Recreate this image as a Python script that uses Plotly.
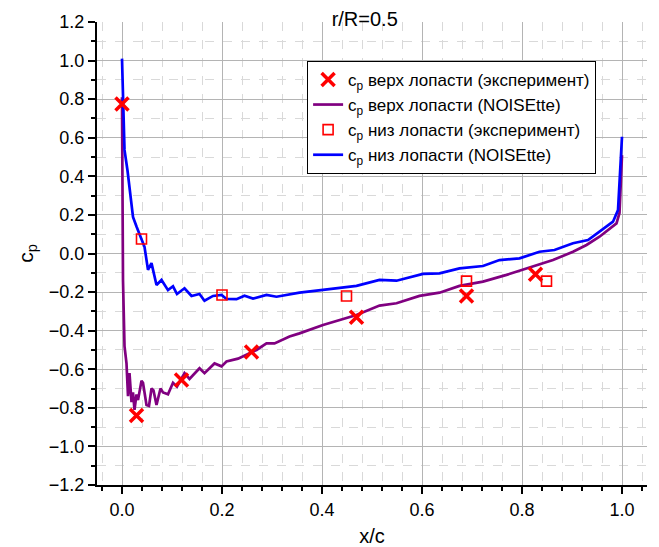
import plotly.graph_objects as go

# Upper surface, experiment
up_exp_x = [0.0, 0.029, 0.119, 0.259, 0.469, 0.689, 0.827]
up_exp_cp = [0.775, -0.84, -0.656, -0.51, -0.33, -0.22, -0.108]

# Upper surface, NOISEtte
up_cfd_x = [0.0, 0.002, 0.005, 0.009, 0.012, 0.015, 0.019, 0.022, 0.025, 0.029,
            0.032, 0.039, 0.042, 0.049, 0.054, 0.059, 0.063, 0.069, 0.077, 0.082,
            0.092, 0.102, 0.11, 0.125, 0.135, 0.155, 0.165, 0.185, 0.199, 0.209,
            0.232, 0.249, 0.269, 0.289, 0.305, 0.335, 0.355, 0.402, 0.469, 0.515,
            0.549, 0.595, 0.635, 0.675, 0.722, 0.769, 0.809, 0.862, 0.902, 0.929,
            0.955, 0.989, 0.995, 0.998, 1.0]
up_cfd_cp = [0.81, -0.14, -0.48, -0.57, -0.74, -0.62, -0.77, -0.72, -0.81, -0.73,
             -0.76, -0.66, -0.67, -0.785, -0.79, -0.70, -0.71, -0.785, -0.70, -0.72,
             -0.73, -0.67, -0.69, -0.62, -0.65, -0.595, -0.62, -0.57, -0.585, -0.56,
             -0.545, -0.526, -0.50, -0.466, -0.466, -0.43, -0.414, -0.371, -0.319, -0.27,
             -0.258, -0.22, -0.203, -0.168, -0.146, -0.111, -0.077, -0.034, 0.009, 0.044,
             0.087, 0.156, 0.21, 0.4, 0.51]

# Lower surface, experiment
lo_exp_x = [0.039, 0.2, 0.449, 0.689, 0.849]
lo_exp_cp = [0.075, -0.215, -0.22, -0.143, -0.143]

# Lower surface, NOISEtte
lo_cfd_x = [0.0, 0.002, 0.005, 0.011, 0.016, 0.022, 0.029, 0.039, 0.045, 0.052,
            0.059, 0.069, 0.079, 0.092, 0.102, 0.11, 0.125, 0.139, 0.155, 0.165,
            0.182, 0.199, 0.209, 0.229, 0.245, 0.262, 0.289, 0.309, 0.355, 0.402,
            0.469, 0.515, 0.549, 0.602, 0.635, 0.675, 0.722, 0.755, 0.795, 0.835,
            0.865, 0.902, 0.932, 0.955, 0.982, 0.992, 0.995, 1.0]
lo_cfd_cp = [1.01, 0.81, 0.537, 0.43, 0.31, 0.19, 0.14, 0.075, 0.035, -0.085,
             -0.05, -0.163, -0.137, -0.19, -0.17, -0.21, -0.18, -0.22, -0.21, -0.245,
             -0.22, -0.215, -0.236, -0.237, -0.219, -0.234, -0.215, -0.224, -0.203, -0.189,
             -0.168, -0.137, -0.141, -0.106, -0.103, -0.077, -0.065, -0.034, -0.025, 0.009,
             0.018, 0.053, 0.07, 0.113, 0.165, 0.225, 0.38, 0.605]

fig = go.Figure()
fig.add_trace(go.Scatter(
    x=up_cfd_x, y=up_cfd_cp, mode="lines", legendrank=2,
    name="c<sub>p</sub> верх лопасти (NOISEtte)",
    line=dict(color="#800080", width=2.7),
))
fig.add_trace(go.Scatter(
    x=lo_cfd_x, y=lo_cfd_cp, mode="lines", legendrank=4,
    name="c<sub>p</sub> низ лопасти (NOISEtte)",
    line=dict(color="#0000ff", width=2.7),
))
fig.add_trace(go.Scatter(
    x=up_exp_x, y=up_exp_cp, mode="markers", legendrank=1,
    name="c<sub>p</sub> верх лопасти (эксперимент)",
    marker=dict(symbol="x-thin", size=13, color="#ff0000",
                line=dict(width=3.5, color="#ff0000")),
))
fig.add_trace(go.Scatter(
    x=lo_exp_x, y=lo_exp_cp, mode="markers", legendrank=3,
    name="c<sub>p</sub> низ лопасти (эксперимент)",
    marker=dict(symbol="square-open", size=10, color="#ff0000",
                line=dict(width=1.6, color="#ff0000")),
))

fig.update_layout(
    width=651, height=539,
    margin=dict(l=89, r=12, t=14, b=62, autoexpand=False),
    paper_bgcolor="white", plot_bgcolor="white",
    font=dict(family="Liberation Sans, Arial, sans-serif", size=18, color="black"),
    title=dict(text="r/R=0.5", x=0.548, xanchor="center", y=0.993, yanchor="top",
               font=dict(size=20)),
    legend=dict(
        x=0.382, y=0.916, xanchor="left", yanchor="top",
        bgcolor="white", bordercolor="black", borderwidth=1,
        font=dict(size=17),
    ),
    showlegend=True,
)

fig.update_xaxes(
    range=[-0.05, 1.05], dtick=0.2, tick0=0, tickformat=".1f", automargin=False,
    showline=True, linecolor="black", linewidth=2,
    ticks="outside", ticklen=7, tickwidth=2, tickcolor="black",
    showgrid=True, gridcolor="#b4b4b4", gridwidth=1, zeroline=False,
    minor=dict(dtick=0.04, tick0=0, ticks="outside", ticklen=4, tickwidth=1.5,
               tickcolor="black", showgrid=True, gridcolor="#d9d9d9", griddash="dash"),
    title=dict(text="x/c", font=dict(size=20), standoff=12),
)
fig.update_yaxes(
    range=[-1.2, 1.2], dtick=0.2, tick0=0, tickformat=".1f", automargin=False,
    showline=True, linecolor="black", linewidth=2,
    ticks="outside", ticklen=7, tickwidth=2, tickcolor="black",
    showgrid=True, gridcolor="#b4b4b4", gridwidth=1, zeroline=False,
    minor=dict(dtick=0.1, tick0=0, ticks="outside", ticklen=4, tickwidth=1.5,
               tickcolor="black", showgrid=True, gridcolor="#d9d9d9", griddash="dash"),
    title=dict(text="c<sub>p</sub>", font=dict(size=21), standoff=10),
)

fig.write_html("out.html")
